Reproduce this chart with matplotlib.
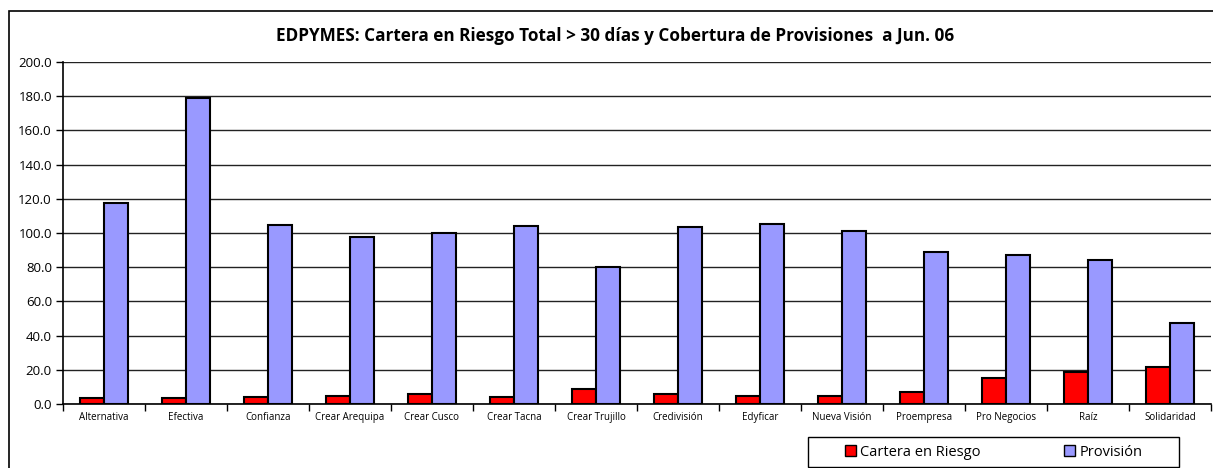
import matplotlib
matplotlib.use('Agg')
import matplotlib.pyplot as plt
from matplotlib.patches import Rectangle, Patch
import numpy as np

plt.rcParams['font.family'] = ['Open Sans', 'DejaVu Sans']

# Data
categorias = ['Alternativa', 'Efectiva', 'Confianza', 'Crear Arequipa', 'Crear Cusco',
              'Crear Tacna', 'Crear Trujillo', 'Credivisión', 'Edyficar', 'Nueva Visión',
              'Proempresa', 'Pro Negocios', 'Raíz', 'Solidaridad']
cartera_riesgo = [3.7, 3.8, 4.0, 4.8, 6.0, 4.3, 8.6, 6.0, 4.5, 4.7, 7.3, 15.4, 18.5, 21.4]
provision = [117.4, 179.1, 104.7, 97.5, 100.2, 104.1, 80.3, 103.7, 105.1, 101.2, 88.9, 87.1, 84.4, 47.6]
y_ticks = [0, 20, 40, 60, 80, 100, 120, 140, 160, 180, 200]

titulo = 'EDPYMES: Cartera en Riesgo Total > 30 días y Cobertura de Provisiones  a Jun. 06'

W, H = 1213, 468
fig = plt.figure(figsize=(W / 100, H / 100), dpi=100)

# outer chart frame (runs off the right and bottom edges like the original)
fig.patches.append(Rectangle((9 / W, -0.1), 1.2, 1.1 - 11 / H, transform=fig.transFigure,
                             fill=False, edgecolor='black', linewidth=1.2, clip_on=False))

ax = fig.add_axes([63 / W, 64 / H, 1148 / W, 342 / H])

x = np.arange(len(categorias))
width = 0.29
ax.bar(x - width / 2, cartera_riesgo, width, color='#FF0000', edgecolor='black', linewidth=1.5,
       label='Cartera en Riesgo', zorder=3)
ax.bar(x + width / 2, provision, width, color='#9999FF', edgecolor='black', linewidth=1.5,
       label='Provisión', zorder=3)

ax.set_xlim(-0.5, len(categorias) - 0.5)
ax.set_ylim(0, 200)
ax.set_yticks(y_ticks)
ax.set_yticklabels([f'{v:.1f}' for v in y_ticks], fontsize=9.5)
ax.set_xticks(x)
ax.set_xticklabels(categorias, fontsize=7)
ax.tick_params(axis='x', length=0, pad=6)
ax.set_xticks(np.arange(len(categorias) + 1) - 0.5, minor=True)
ax.tick_params(axis='x', which='minor', length=5, width=1, direction='out')
ax.tick_params(axis='y', length=5, width=1, direction='out', pad=3)

ax.grid(True, axis='y', color='#222222', linewidth=1, zorder=0)
for s in ['top', 'right']:
    ax.spines[s].set_visible(False)
ax.spines['left'].set_linewidth(1.2)
ax.spines['bottom'].set_linewidth(1.2)

fig.text(615 / W, 1 - 36 / H, titulo, ha='center', va='center', fontsize=12.3, fontweight='bold')

# legend box drawn by hand, entries placed inside it
fig.patches.append(Rectangle((808 / W, 1 / H), (1179 - 808) / W, 30 / H, transform=fig.transFigure,
                             fill=True, facecolor='white', edgecolor='black', linewidth=1))
handles = [Patch(facecolor='#FF0000', edgecolor='black', label='Cartera en Riesgo'),
           Patch(facecolor='#9999FF', edgecolor='black', label='Provisión')]
leg = fig.legend(handles=handles, loc='center left', ncol=2,
                 bbox_to_anchor=(845 / W, 16 / H), frameon=False,
                 fontsize=10.5, borderpad=0, columnspacing=5.7,
                 handlelength=0.75, handleheight=0.75, handletextpad=0.3, borderaxespad=0)

fig.savefig('out.png', dpi=100)
